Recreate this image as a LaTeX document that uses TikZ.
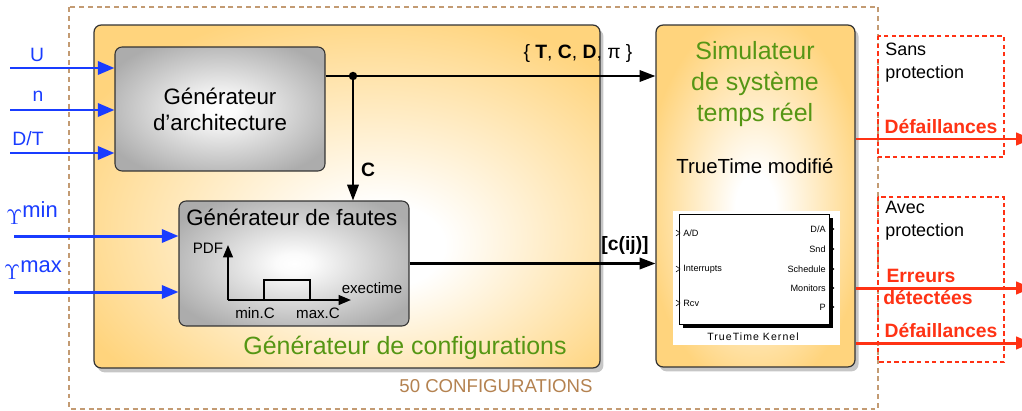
\documentclass[tikz,border=0pt]{standalone}
\usepackage{fontspec}
\setmainfont{Liberation Sans}
\usetikzlibrary{arrows.meta,shadows}
\definecolor{inblue}{RGB}{25,60,255}
\definecolor{outred}{RGB}{255,50,20}
\definecolor{titlegreen}{RGB}{85,150,20}
\definecolor{framebrown}{RGB}{195,155,115}
\definecolor{textbrown}{RGB}{180,130,80}
\definecolor{boxorange}{RGB}{255,212,125}
\definecolor{boxgray}{RGB}{172,172,172}
\pgfdeclareradialshading{configglow}{\pgfpoint{4bp}{-8bp}}{color(0bp)=(white); color(6bp)=(white); color(32bp)=(boxorange); color(60bp)=(boxorange)}
\pgfdeclareradialshading{simglow}{\pgfpoint{0bp}{-2bp}}{color(0bp)=(white); color(5bp)=(white); color(28bp)=(boxorange); color(50bp)=(boxorange)}
\pgfdeclareradialshading{grayglow}{\pgfpoint{0bp}{0bp}}{color(0bp)=(white); color(4bp)=(white!95!boxgray); color(30bp)=(boxgray); color(50bp)=(boxgray)}
\begin{document}
\begin{tikzpicture}[x=0.02cm, y=-0.02cm,
  frame/.style={draw=framebrown, line width=0.7pt, dash pattern=on 2.8pt off 2.2pt},
  redframe/.style={draw=outred, line width=0.6pt, dash pattern=on 2.5pt off 1.8pt},
  bigbox/.style={draw=black!80, line width=0.7pt, rounded corners=4pt,
    drop shadow={shadow xshift=2pt, shadow yshift=-2.5pt, opacity=0.45}},
  graybox/.style={draw=black!80, line width=0.6pt, rounded corners=4pt, shading=grayglow},
  inarrow/.style={draw=inblue, line width=1.7pt, -{Triangle[length=9.5pt,width=7.5pt]}},
  outarrow/.style={draw=outred, line width=1.7pt, -{Triangle[length=9pt,width=7pt]}},
  flow/.style={draw=black, line width=1.2pt, -{Triangle[length=9pt,width=6.5pt]}},
  axis/.style={draw=black, line width=1.1pt, -{Triangle[length=7pt,width=5.5pt]}},
  inlabel/.style={text=inblue, font=\fontsize{11}{13}\selectfont},
  greek/.style={text=inblue, font=\fontsize{12.5}{14}\selectfont},
  boxtitle/.style={font=\fontsize{12.7}{14.8}\selectfont},
  greentitle/.style={text=titlegreen, font=\fontsize{14.2}{17.6}\selectfont},
  flowlabel/.style={font=\fontsize{11}{13}\selectfont},
  plotlabel/.style={font=\fontsize{8.6}{10}\selectfont},
  sidelabel/.style={font=\fontsize{10.2}{13}\selectfont, align=left},
  redlabel/.style={text=outred, font=\fontsize{11}{13}\bfseries\selectfont, align=left},
  portlabel/.style={font=\fontsize{5.2}{6}\selectfont}]
  \tikzstyle{every node}+=[inner sep=0pt]
  \useasboundingbox (0,0) rectangle (1022,410);

  \draw[frame] (69,7) rectangle (878,409);
  \draw[redframe] (878,36) rectangle (1004,157);
  \draw[redframe] (878,197) rectangle (1004,362);

  \node[bigbox, shading=configglow, minimum width=10.12cm, minimum height=6.86cm] (config) at (347,196.5) {};
  \node[bigbox, shading=simglow, minimum width=3.98cm, minimum height=6.84cm] (sim) at (755.5,196) {};
  \node[graybox, boxtitle, align=center, minimum width=4.2cm, minimum height=2.48cm] (arch) at (220,109) {Générateur\\d'architecture};
  \node[graybox, minimum width=4.6cm, minimum height=2.5cm] (fautes) at (294,263.5) {};
  \node[boxtitle, anchor=west] (fautestitle) at (186,217) {Générateur de fautes};

  \node[greentitle] (configtitle) at (405,348) {Générateur de configurations};
  \node[text=textbrown, font=\fontsize{10.6}{12}\selectfont] (nbconf) at (496,386) {50 CONFIGURATIONS};
  \node[greentitle, align=center] (simtitle) at (755,84) {Simulateur\\de système\\temps réel};
  \node[font=\fontsize{11.6}{14}\selectfont] (truetime) at (755,166) {TrueTime modifié};

  % entrees
  \coordinate (inU) at (10,68);
  \coordinate (inN) at (10,110);
  \coordinate (inDT) at (10,153);
  \coordinate (inGmin) at (14,236);
  \coordinate (inGmax) at (14,292);
  \draw[inarrow] (inU) -- (inU -| arch.west);
  \draw[inarrow] (inN) -- (inN -| arch.west);
  \draw[inarrow] (inDT) -- (inDT -| arch.west);
  \draw[inarrow] (inGmin) -- (inGmin -| fautes.west);
  \draw[inarrow] (inGmax) -- (inGmax -| fautes.west);
  \node[inlabel] (labU) at (37,55) {U};
  \node[inlabel] (labN) at (38,96) {n};
  \node[inlabel] (labDT) at (28,139) {D/T};
  \node[greek] (labGmin) at (32,213) {$\Upsilon$\raisebox{0.55ex}{min}};
  \node[greek] (labGmax) at (33,270) {$\Upsilon$\raisebox{0.55ex}{max}};

  % liaisons
  \coordinate (split) at (353,76);
  \draw[flow] (split -| arch.east) -- (split -| sim.west);
  \fill (split) circle[radius=2.4pt];
  \draw[flow] (split) -- (split |- fautes.north);
  \draw[flow] (fautes.east) -- (fautes.east -| sim.west);
  \node[flowlabel] (labTCD) at (578,53) {\{ \textbf{T}, \textbf{C}, \textbf{D}, π \}};
  \node[flowlabel, font=\fontsize{11}{13}\bfseries\selectfont] (labC) at (368,170) {C};
  \node[flowlabel, font=\fontsize{11}{13}\bfseries\selectfont] (labCij) at (625,245) {[c(ij)]};

  % densite
  \coordinate (orig) at (228,300);
  \draw[axis] (orig) -- (228,245);
  \draw[axis] (orig) -- (351,300);
  \draw[line width=1.1pt] (264,300) -- (264,280) -- (310,280) -- (310,300);
  \node[plotlabel] (labPDF) at (208,248) {PDF};
  \node[plotlabel] (labExec) at (372,288) {exectime};
  \node[plotlabel] (labMin) at (255,313) {min.C};
  \node[plotlabel] (labMax) at (318,313) {max.C};

  % noyau TrueTime
  \fill[white] (673,211) rectangle (840,345);
  \fill[black] (683,218) rectangle (833,328);
  \draw[fill=white, line width=0.5pt] (679,214) rectangle (829,324);
  \foreach \y in {233,269,303}
    \draw[line width=0.3pt] (676,\y-3) -- (680,\y) -- (676,\y+3);
  \foreach \y in {229,249,269,288,307}
    \draw[line width=0.3pt] (830,\y-3) -- (834,\y) -- (830,\y+3);
  \node[portlabel, anchor=west] (pAD) at (683,233) {A/D};
  \node[portlabel, anchor=west] (pInt) at (683,269) {Interrupts};
  \node[portlabel, anchor=west] (pRcv) at (683,303) {Rcv};
  \node[portlabel, anchor=east] (pDA) at (826,229) {D/A};
  \node[portlabel, anchor=east] (pSnd) at (826,249) {Snd};
  \node[portlabel, anchor=east] (pSched) at (826,269) {Schedule};
  \node[portlabel, anchor=east] (pMon) at (826,288) {Monitors};
  \node[portlabel, anchor=east] (pP) at (826,307) {P};
  \node[font=\fontsize{6}{7}\selectfont] (kernel) at (753,337) {\addfontfeature{LetterSpace=10}TrueTime Kernel};

  % sorties
  \coordinate (outA) at (1032,139);
  \coordinate (outB) at (1032,288);
  \coordinate (outC) at (1032,343);
  \draw[outarrow] (outA -| sim.east) -- (outA);
  \draw[outarrow] (outB -| sim.east) -- (outB);
  \draw[outarrow] (outC -| sim.east) -- (outC);
  \node[sidelabel, anchor=west] (labSans) at (885,63) {Sans\\protection};
  \node[redlabel] (labDefA) at (941,127) {Défaillances};
  \node[sidelabel, anchor=west] (labAvec) at (885,221) {Avec\\protection};
  \node[redlabel, anchor=west] (labErr) at (883,287) {\,Erreurs\\détectées};
  \node[redlabel] (labDefB) at (941,331) {Défaillances};
\end{tikzpicture}
\end{document}
